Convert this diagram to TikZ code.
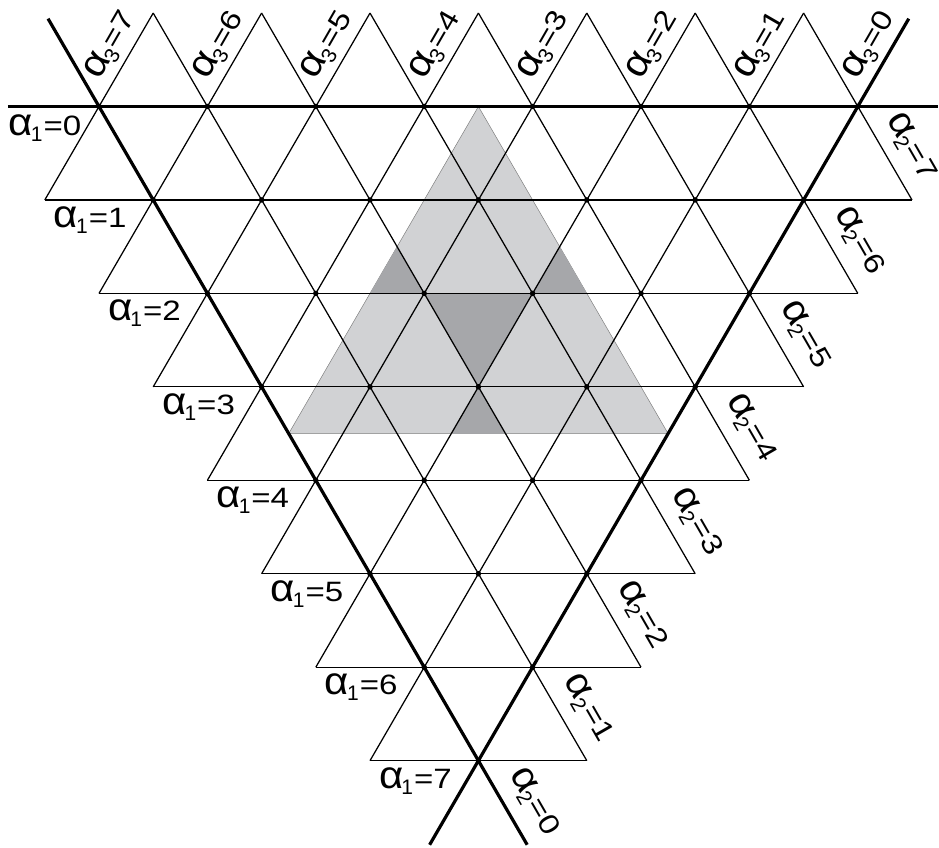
\documentclass[tikz,border=0pt]{standalone}
\usepackage{graphicx}
\usepackage{fontspec}
\setmainfont{Liberation Sans}
\definecolor{lightg}{RGB}{209,210,212}
\definecolor{darkg}{RGB}{166,167,170}
\newcommand\alab[2]{\scalebox{1.5}[1.38]{α}\kern-2pt\raisebox{-6pt}{\fontsize{21}{21}\selectfont #1}\kern1pt\scalebox{1.18}[1]{=#2}}
\newcommand\LP[2]{({99+54.2*(#1)},{106.5+93.45*(#2)})}
\begin{document}
\begin{tikzpicture}[x=1pt,y=-1pt,
  lat/.style={line width=1.25pt, black},
  bnd/.style={line width=3.2pt, black},
  lbl/.style={font=\fontsize{28}{28}\selectfont, inner sep=0pt},
  dotp/.style={circle, fill=black, inner sep=0pt, minimum size=5.5pt}]
\useasboundingbox (0,0) rectangle (939,848);
% shaded regions
\filldraw[fill=lightg, draw=gray, line width=0.5pt] \LP{7}{0} -- \LP{3.5}{3.5} -- \LP{10.5}{3.5} -- cycle;
\fill[darkg] \LP{6}{2} -- \LP{8}{2} -- \LP{7}{3} -- cycle;
\fill[darkg] \LP{5.5}{1.5} -- \LP{5}{2} -- \LP{6}{2} -- cycle;
\fill[darkg] \LP{8.5}{1.5} -- \LP{8}{2} -- \LP{9}{2} -- cycle;
\fill[darkg] \LP{7}{3} -- \LP{6.5}{3.5} -- \LP{7.5}{3.5} -- cycle;
% horizontal lattice lines
\foreach \k in {1,...,7} \draw[lat] \LP{\k-2}{\k} -- \LP{16-\k}{\k};
% lines parallel to the left boundary
\foreach \j in {1,...,7} \draw[lat] \LP{2*\j-1}{-1} -- \LP{\j+8}{8-\j};
% lines parallel to the right boundary
\foreach \j in {0,...,6} \draw[lat] \LP{2*\j+1}{-1} -- \LP{\j-1}{\j+1};
% thick boundary lines
\draw[bnd] \LP{-1.68}{0} -- \LP{15.48}{0};
\draw[bnd] \LP{-0.94}{-0.94} -- \LP{7.9}{7.9};
\draw[bnd] \LP{14.94}{-0.94} -- \LP{6.1}{7.9};
% lattice dots
\foreach \r in {0,...,7} {
  \pgfmathtruncatemacro\n{7-\r}
  \foreach \i in {0,...,\n} \node[dotp] (p\r-\i) at \LP{\r+2*\i}{\r} {};
}
% alpha_1 labels
\node[lbl] (a1-0) at (45,128.5) {\alab{1}{0}};
\foreach \k in {1,...,7}
  \node[lbl] (a1-\k) at ({99+54.2*\k-63},{106.5+93.45*\k+20}) {\alab{1}{\k}};
% alpha_3 labels
\foreach \j in {0,...,7} {
  \pgfmathtruncatemacro\v{7-\j}
  \node[lbl, rotate=60] (a3-\v) at ({99+108.4*\j+12},{106.5-61}) {\alab{3}{\v}};
}
% alpha_2 labels
\node[lbl, rotate=-60] (a2-7) at (911,147) {\alab{2}{7}};
\foreach \k in {1,...,7} {
  \pgfmathtruncatemacro\v{7-\k}
  \node[lbl, rotate=-60] (a2-\v) at ({99+54.2*(14-\k)+55.5},{106.5+93.45*\k+41.5}) {\alab{2}{\v}};
}
\end{tikzpicture}
\end{document}
